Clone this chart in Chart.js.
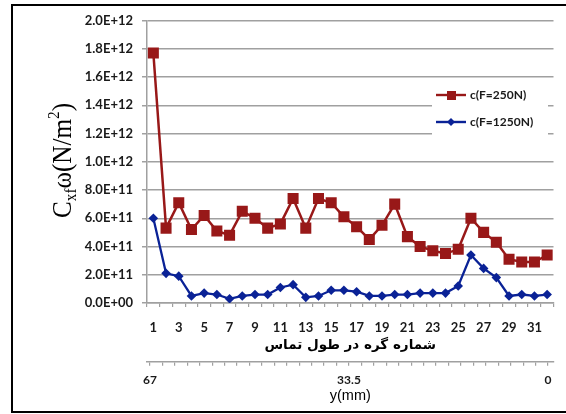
<!DOCTYPE html>
<html><head><meta charset="utf-8">
<script src="https://cdn.jsdelivr.net/npm/chart.js@4/dist/chart.umd.min.js"></script>
<style>
html,body{margin:0;padding:0;background:#fff;overflow:hidden;width:566px;height:414px;}
#frame{position:absolute;left:11px;top:4px;width:700px;height:405px;border:2px solid #000;}
#wrap{position:absolute;left:0;top:0;width:566px;height:414px;}
</style></head><body>
<div id="frame"></div>
<div id="wrap"><canvas id="c" width="566" height="414"></canvas></div>
<script>
// ---- data ----
const nodeLabels = ['1','2','3','4','5','6','7','8','9','10','11','12','13','14','15','16',
                    '17','18','19','20','21','22','23','24','25','26','27','28','29','30','31','32'];
const seriesNames = ['c(F=250N)', 'c(F=1250N)'];
const cF250 = [1.77e12, 5.3e11, 7.1e11, 5.2e11, 6.2e11, 5.1e11, 4.8e11, 6.5e11, 6.0e11, 5.3e11, 5.6e11,
               7.4e11, 5.3e11, 7.4e11, 7.1e11, 6.1e11, 5.4e11, 4.5e11, 5.5e11, 7.0e11, 4.7e11, 4.0e11,
               3.7e11, 3.5e11, 3.8e11, 6.0e11, 5.0e11, 4.3e11, 3.1e11, 2.9e11, 2.9e11, 3.4e11];
const cF1250 = [6.0e11, 2.1e11, 1.9e11, 0.5e11, 0.7e11, 0.6e11, 0.3e11, 0.5e11, 0.6e11, 0.6e11, 1.1e11,
                1.3e11, 0.4e11, 0.5e11, 0.9e11, 0.9e11, 0.8e11, 0.5e11, 0.5e11, 0.6e11, 0.6e11, 0.7e11,
                0.7e11, 0.7e11, 1.2e11, 3.4e11, 2.45e11, 1.8e11, 0.5e11, 0.6e11, 0.5e11, 0.6e11];
const yTickValues = [0, 2e11, 4e11, 6e11, 8e11, 1e12, 1.2e12, 1.4e12, 1.6e12, 1.8e12, 2e12];
const yTickLabels = ['0.0E+00','2.0E+11','4.0E+11','6.0E+11','8.0E+11','1.0E+12','1.2E+12','1.4E+12','1.6E+12','1.8E+12','2.0E+12'];
const yMmTickValues = [67, 33.5, 0];
const yMmTickLabels = ['67', '33.5', '0'];
const yMmMinorSteps = 32;
const xTitle = 'شماره گره در طول تماس';
const x2Title = 'y(mm)';

// ---- styling ----
const RED = '#981818', BLUE = '#0a2296', GRID = '#a0a0a0', TXT = '#1a1a1a';

function makeSwatch(color, shape) {
  const cv = document.createElement('canvas');
  cv.width = 30; cv.height = 12;
  const g = cv.getContext('2d');
  g.strokeStyle = color; g.fillStyle = color; g.lineWidth = 2.4;
  g.beginPath(); g.moveTo(0, 6); g.lineTo(30, 6); g.stroke();
  if (shape === 'rect') { g.fillRect(11, 2, 9, 9); }
  else { g.beginPath(); g.moveTo(15, 2); g.lineTo(19, 6); g.lineTo(15, 10); g.lineTo(11, 6); g.closePath(); g.fill(); }
  return cv;
}
const swatches = [makeSwatch(RED, 'rect'), makeSwatch(BLUE, 'diamond')];

const legendPlace = {
  id: 'legendPlace',
  beforeDraw(chart) {
    const lg = chart.legend;
    if (!lg) return;
    lg.left = 423; lg.right = 553; lg.top = 74; lg.bottom = 303;
    if (!lg._bgWrapped) {
      const orig = lg.draw;
      lg.draw = function (area) {
        const ctx = this.ctx;
        ctx.save(); ctx.fillStyle = '#ffffff'; ctx.fillRect(432, 82, 116, 54); ctx.restore();
        orig.call(this, area);
      };
      lg._bgWrapped = true;
    }
  }
};

const yTitlePlugin = {
  id: 'yTitle',
  afterDraw(chart) {
    const ctx = chart.ctx;
    const big = '28px "Liberation Serif", "DejaVu Serif", serif';
    const small = '17px "Liberation Serif", "DejaVu Serif", serif';
    const pieces = [
      {t: 'C', f: big, dy: 0}, {t: 'xf', f: small, dy: 5},
      {t: 'ω(N/m', f: big, dy: 0}, {t: '2', f: small, dy: -12}, {t: ')', f: big, dy: 0}
    ];
    ctx.save();
    let W = 0;
    pieces.forEach(p => { ctx.font = p.f; p.w = ctx.measureText(p.t).width; W += p.w; });
    ctx.translate(71, 160.5);
    ctx.rotate(-Math.PI / 2);
    ctx.scale(115 / W, 1);
    ctx.fillStyle = '#000';
    ctx.textBaseline = 'alphabetic';
    ctx.textAlign = 'left';
    let x = -W / 2;
    pieces.forEach(p => { ctx.font = p.f; ctx.fillText(p.t, x, p.dy); x += p.w; });
    ctx.restore();
  }
};

new Chart(document.getElementById('c'), {
  type: 'line',
  data: {
    labels: nodeLabels,
    datasets: [
      { label: seriesNames[0], data: cF250, borderColor: RED, backgroundColor: RED, borderWidth: 2.5,
        pointStyle: 'rect', pointRadius: 7.8, pointBorderWidth: 0, tension: 0, xAxisID: 'x', yAxisID: 'y' },
      { label: seriesNames[1], data: cF1250, borderColor: BLUE, backgroundColor: BLUE, borderWidth: 2.3,
        pointStyle: 'rectRot', pointRadius: 4.8, pointBorderWidth: 0, tension: 0, xAxisID: 'x', yAxisID: 'y' }
    ]
  },
  options: {
    responsive: false, animation: false, devicePixelRatio: 1,
    layout: { padding: { left: 0, top: 20.5, right: 12.5, bottom: 5 } },
    plugins: {
      tooltip: { enabled: false },
      legend: {
        position: 'chartArea', align: 'start',
        labels: {
          usePointStyle: true, pointStyleWidth: 26, padding: 15, color: TXT,
          font: { family: 'Lato, "DejaVu Sans", sans-serif', size: 12, weight: 'bold' },
          generateLabels(chart) {
            return chart.data.datasets.map((ds, i) => ({
              text: ds.label, pointStyle: swatches[i], fillStyle: ds.borderColor,
              strokeStyle: ds.borderColor, lineWidth: 0, hidden: false, datasetIndex: i, fontColor: TXT
            }));
          }
        }
      }
    },
    scales: {
      x: {
        type: 'category', position: 'bottom', offset: true, weight: 0,
        grid: { offset: true, drawOnChartArea: false, tickLength: 4, color: GRID, lineWidth: 1.2 },
        border: { color: GRID, width: 1.5 },
        ticks: {
          autoSkip: false, maxRotation: 0, minRotation: 0, padding: 13.2, color: TXT,
          font: { family: 'Lato, "DejaVu Sans", sans-serif', size: 13, weight: 'bold' },
          callback: (v, i) => (i % 2 === 0 ? nodeLabels[i] : '')
        },
        title: { display: true, text: xTitle, color: '#000', padding: { top: 0, bottom: 8.6 },
                 font: { family: '"DejaVu Sans", sans-serif', size: 13.5, weight: 'bold' } },
        afterFit: s => { s.height = 58.7; }
      },
      x2: {
        type: 'linear', position: 'bottom', reverse: true, min: -0.93, max: 67.5, weight: 1,
        grid: { drawOnChartArea: false, tickLength: 4, color: GRID, lineWidth: 1.2 },
        border: { color: GRID, width: 1.5 },
        afterBuildTicks: s => {
          const vals = [];
          for (let k = 0; k <= yMmMinorSteps; k++) vals.push(67 * k / yMmMinorSteps);
          s.ticks = vals.map(v => ({ value: v }));
        },
        ticks: {
          autoSkip: false, maxRotation: 0, padding: 7, color: TXT,
          font: { family: 'Lato, "DejaVu Sans", sans-serif', size: 12, weight: 'bold' },
          callback: v => { const i = yMmTickValues.indexOf(v); return i >= 0 ? yMmTickLabels[i] : ''; }
        },
        title: { display: true, text: x2Title, color: '#000', padding: { top: 0, bottom: 4 },
                 font: { family: '"Liberation Sans", Arial, sans-serif', size: 14.5 } },
        afterFit: s => { s.height = 47.3; }
      },
      y: {
        type: 'linear', position: 'left', min: 0, max: 2e12,
        afterBuildTicks: s => { s.ticks = yTickValues.map(v => ({ value: v })); },
        grid: { color: GRID, lineWidth: 1.5, tickLength: 5 },
        border: { color: GRID, width: 1.5 },
        ticks: {
          padding: 9, color: TXT,
          font: { family: 'Lato, "DejaVu Sans", sans-serif', size: 13, weight: 'bold' },
          callback: v => { const i = yTickValues.indexOf(v); return i >= 0 ? yTickLabels[i] : ''; }
        },
        title: { display: false },
        afterFit: s => { s.width = 147; }
      }
    }
  },
  plugins: [legendPlace, yTitlePlugin]
});
</script>
</body></html>
